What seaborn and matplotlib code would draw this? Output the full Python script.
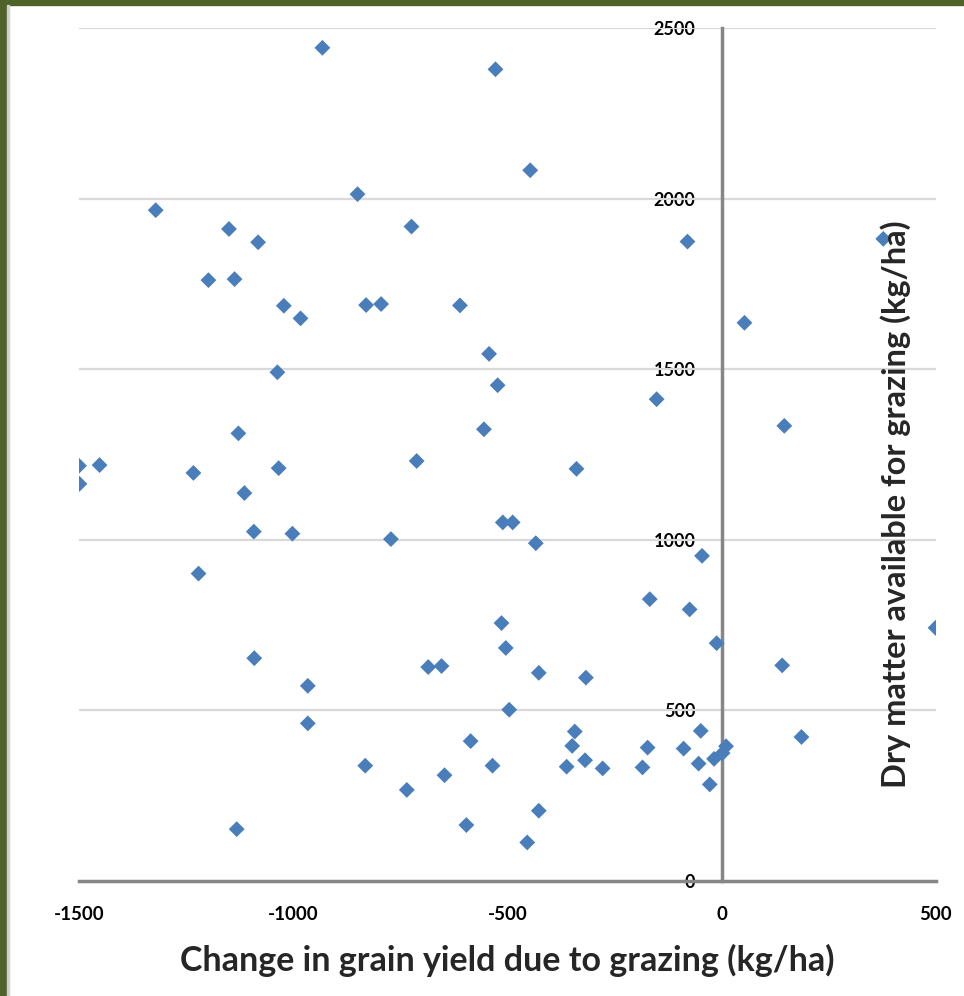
import pandas as pd
import seaborn as sns
import matplotlib.pyplot as plt

# Data
grain_change = [
    -932, -850, -1321, -1150, -1082, -1198, -1137, -1022, -983, -830,
    -795, -1037, -1128, -528, -447, -724, -80, -611, -543, -523,
    -152, -555, -712, 377, 53, 146, -1500, -1452, -1499, -1233,
    -1034, -1114, -1092, -1002, -1221, -1091, -966, -966, -832, -1132,
    -339, -511, -488, -772, -434, -168, -75, -514, -504, -685,
    -654, -427, -317, -496, -586, -343, -349, -173, -89, -535,
    -362, -319, -278, -185, -647, -735, -427, -596, -454, -46,
    -12, 141, 499, -49, 186, -54, -18, 10, 2, -28,
]
dry_matter = [
    2442, 2013, 1966, 1911, 1872, 1761, 1764, 1686, 1649, 1688,
    1691, 1491, 1312, 2379, 2083, 1918, 1874, 1687, 1545, 1453,
    1412, 1324, 1231, 1882, 1636, 1334, 1217, 1219, 1164, 1196,
    1210, 1137, 1024, 1018, 901, 653, 572, 462, 338, 152,
    1208, 1051, 1051, 1002, 990, 826, 796, 756, 683, 627,
    630, 610, 596, 502, 410, 438, 396, 391, 388, 338,
    335, 354, 330, 333, 310, 267, 206, 164, 113, 953,
    697, 632, 742, 440, 422, 344, 358, 395, 375, 283,
]
x_ticks = [-1500, -1000, -500, 0, 500]
y_ticks = [0, 500, 1000, 1500, 2000, 2500]

df = pd.DataFrame({'grain': grain_change, 'dm': dry_matter})

sns.set_theme(style='white')
plt.rcParams['font.family'] = ['Lato', 'DejaVu Sans']
plt.rcParams['axes.unicode_minus'] = False

fig = plt.figure(figsize=(9.64, 9.96), dpi=100)
ax = fig.add_axes([79 / 964, 115 / 996, 857 / 964, 853 / 996])

# slide border (olive green strip at top and left)
green = '#4f6228'
fig.add_artist(plt.Rectangle((0, 1 - 5 / 996), 1, 5 / 996, transform=fig.transFigure,
                             color=green, zorder=10))
fig.add_artist(plt.Rectangle((0, 0), 7 / 964, 1, transform=fig.transFigure,
                             color=green, zorder=10))
fig.add_artist(plt.Rectangle((7 / 964, 0), 2 / 964, 1 - 5 / 996, transform=fig.transFigure,
                             color='#d0d0d0', zorder=10))

sns.scatterplot(data=df, x='grain', y='dm', marker='D', s=65, color='#4a7ebb',
                edgecolor='none', ax=ax, zorder=3)

ax.set_xlim(-1500, 500)
ax.set_ylim(0, 2500)
ax.set_xticks(x_ticks)
ax.set_yticks(y_ticks)

# horizontal gridlines only
for v in y_ticks[1:]:
    ax.axhline(v, color='#d9d9d9', lw=1.6, zorder=1)

# axes cross at zero
for side in ['top', 'right']:
    ax.spines[side].set_visible(False)
ax.spines['left'].set_position(('data', 0))
ax.spines['bottom'].set_position(('data', 0))
for side in ['left', 'bottom']:
    ax.spines[side].set_color('#868686')
    ax.spines[side].set_linewidth(2.5)
    ax.spines[side].set_zorder(2)

ax.tick_params(axis='both', direction='out', length=5, width=2, color='#868686',
               labelcolor='black')
ax.tick_params(axis='x', pad=13, labelsize=13.5)
ax.tick_params(axis='y', pad=14, labelsize=13)
for lbl in ax.get_xticklabels() + ax.get_yticklabels():
    lbl.set_fontweight('bold')

ax.set_xlabel('Change in grain yield due to grazing (kg/ha)', fontsize=24.5,
              fontweight='bold', labelpad=15)
ax.set_ylabel('')
ax.text(0.953, 0.442, 'Dry matter available for grazing (kg/ha)', transform=ax.transAxes,
        rotation=90, ha='center', va='center', fontsize=23.5, fontweight='bold')

fig.savefig('out.png', dpi=100, facecolor='white')
